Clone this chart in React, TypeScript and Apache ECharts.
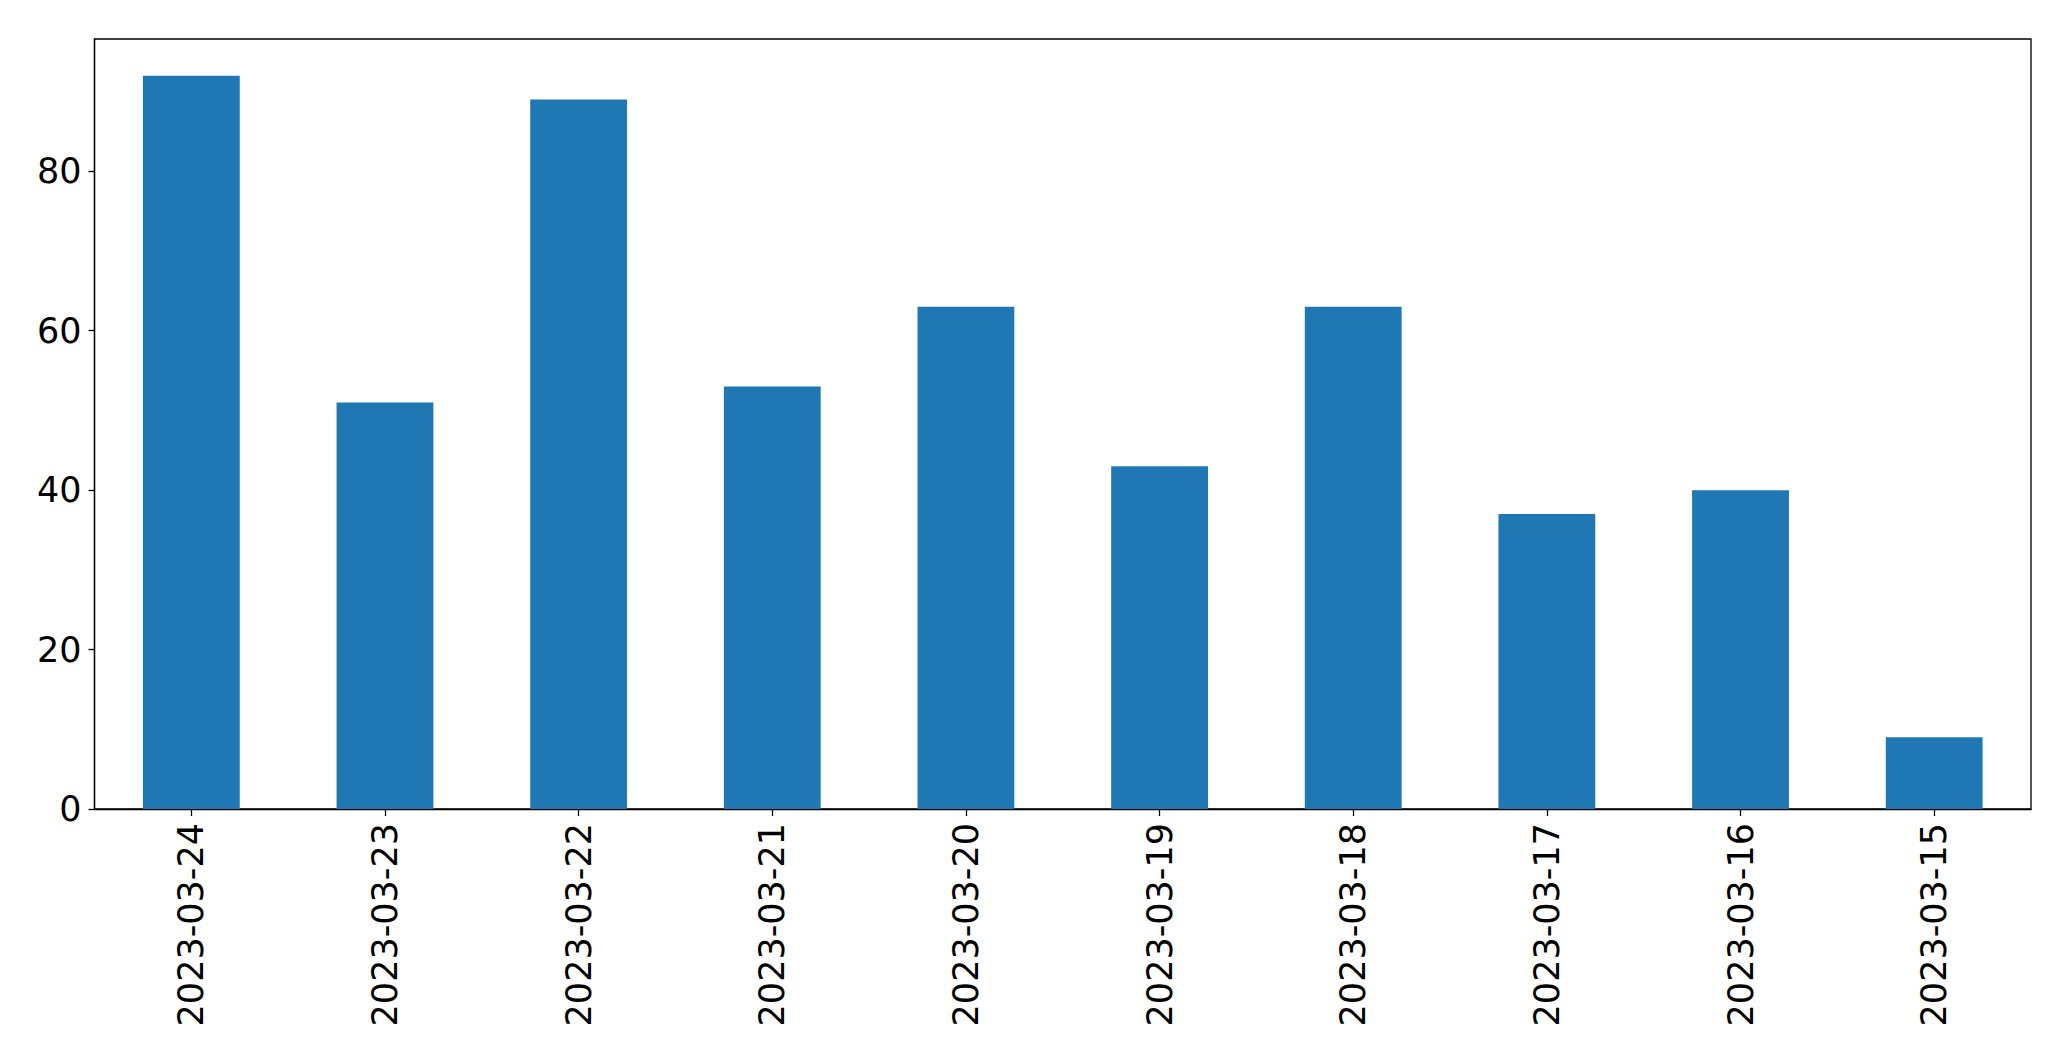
import React, { useEffect, useRef } from "react";
import * as echarts from "echarts";

const categories = [
  "2023-03-24",
  "2023-03-23",
  "2023-03-22",
  "2023-03-21",
  "2023-03-20",
  "2023-03-19",
  "2023-03-18",
  "2023-03-17",
  "2023-03-16",
  "2023-03-15",
];
const values = [92, 51, 89, 53, 63, 43, 63, 37, 40, 9];
const yMax = 96.6;

export default function App() {
  const ref = useRef<HTMLDivElement>(null);
  useEffect(() => {
    if (!ref.current) return;
    const chart = echarts.init(ref.current, undefined, { renderer: "svg" });
    const font = "DejaVu Sans";
    chart.setOption({
      animation: false,
      backgroundColor: "#ffffff",
      grid: {
        left: 94.5,
        right: 40,
        top: 39,
        bottom: 252,
        show: true,
        borderColor: "#000000",
        borderWidth: 1.3,
        backgroundColor: "transparent",
        containLabel: false,
      },
      xAxis: {
        type: "category",
        data: categories,
        boundaryGap: true,
        axisLine: { show: true, lineStyle: { color: "#000000", width: 1.3 } },
        axisTick: {
          show: true,
          alignWithLabel: true,
          length: 7,
          lineStyle: { color: "#000000", width: 1.3 },
        },
        axisLabel: {
          rotate: 90,
          margin: 14,
          color: "#000000",
          fontFamily: font,
          fontSize: 35,
          interval: 0,
        },
        splitLine: { show: false },
      },
      yAxis: {
        type: "value",
        min: 0,
        max: yMax,
        interval: 20,
        axisLine: { show: true, lineStyle: { color: "#000000", width: 1.3 } },
        axisTick: {
          show: true,
          length: 6,
          lineStyle: { color: "#000000", width: 1.3 },
        },
        axisLabel: {
          margin: 13,
          color: "#000000",
          fontFamily: font,
          fontSize: 35,
          showMaxLabel: false,
          formatter: (v: number) => (v % 20 === 0 ? String(v) : ""),
        },
        splitLine: { show: false },
      },
      series: [
        {
          type: "bar",
          data: values,
          barWidth: "50%",
          itemStyle: { color: "#1f77b4" },
        },
      ],
    });
    return () => chart.dispose();
  }, []);
  return (
    <div
      ref={ref}
      style={{ position: "absolute", left: 0, top: 0, width: 2071, height: 1061 }}
    />
  );
}
